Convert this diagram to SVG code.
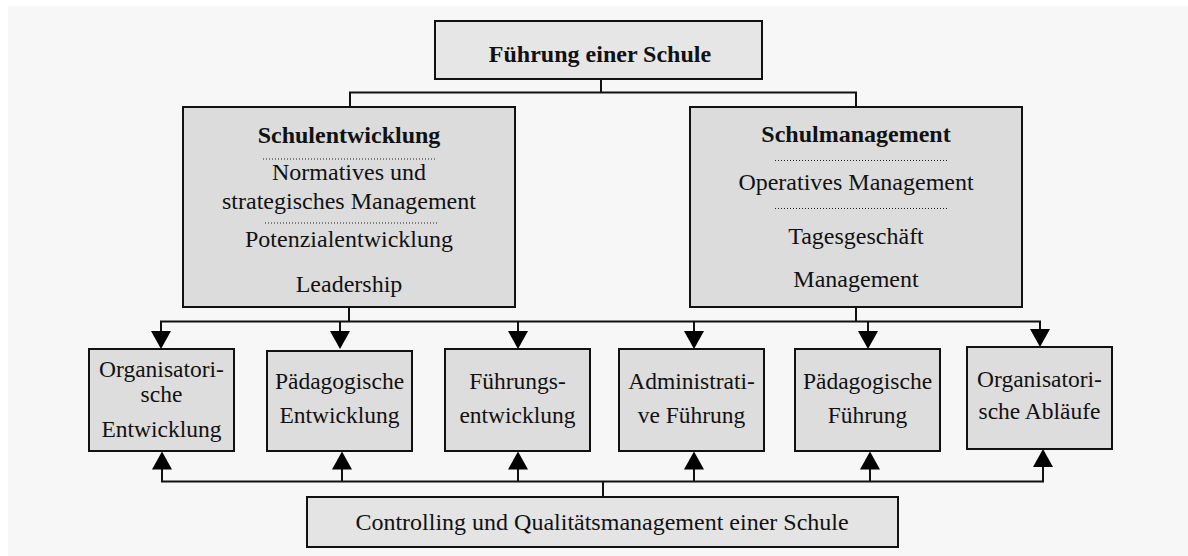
<svg xmlns="http://www.w3.org/2000/svg" width="1188" height="556" viewBox="0 0 1188 556">
  <style>
    text { font-family: "Liberation Serif", "Times New Roman", serif; fill: #111; text-anchor: middle; }
    .t { font-size: 24px; }
    .b { font-size: 24px; font-weight: bold; }
    .s { font-size: 23.5px; }
    .box { stroke: #111; stroke-width: 2; }
    .top { fill: #e6e6e6; }
    .mid { fill: #dcdcdc; }
    .low { fill: #dddddd; }
    .ctl { fill: #e4e4e4; }
    .dot { stroke: #222; stroke-width: 1; stroke-dasharray: 1 2; fill: none; }
    .wire { stroke: #111; stroke-width: 2; fill: none; }
  </style>
  <defs>
    <marker id="head" viewBox="0 0 18 20" refX="10" refY="10" markerWidth="18" markerHeight="20" markerUnits="userSpaceOnUse" orient="auto">
      <path d="M0,0 L18,10 L0,20 z" fill="#000"/>
    </marker>
  </defs>

  <rect x="8" y="6" width="1180" height="550" fill="#f7f7f7"/>

  <!-- connectors -->
  <g id="connectors">
    <!-- top level to the two pillars -->
    <path class="wire" d="M601,79 V92.5 M350,107 V92.5 H856 V107"/>
    <!-- pillars down to the distribution bus -->
    <path class="wire" d="M349,307 V321.5 M856,307 V321.5 M161,341 V321.5 H1040 V341"/>
    <path class="wire" marker-end="url(#head)" d="M340,321.5 V341"/>
    <path class="wire" marker-end="url(#head)" d="M518,321.5 V341"/>
    <path class="wire" marker-end="url(#head)" d="M694,321.5 V341"/>
    <path class="wire" marker-end="url(#head)" d="M868,321.5 V341"/>
    <path class="wire" marker-end="url(#head)" d="M161,335 V341"/>
    <path class="wire" marker-end="url(#head)" d="M1040,335 V339"/>
    <!-- controlling feedback bus -->
    <path class="wire" d="M603,497 V481.5 M162,459 V481.5 H1043 V459"/>
    <path class="wire" marker-end="url(#head)" d="M162,470 V459.5"/>
    <path class="wire" marker-end="url(#head)" d="M342,481.5 V459.5"/>
    <path class="wire" marker-end="url(#head)" d="M518,481.5 V459.5"/>
    <path class="wire" marker-end="url(#head)" d="M694,481.5 V459.5"/>
    <path class="wire" marker-end="url(#head)" d="M870,481.5 V459.5"/>
    <path class="wire" marker-end="url(#head)" d="M1043,470 V457"/>
  </g>

  <g id="fuehrung">
    <rect class="box top" x="435" y="21" width="327" height="58"/>
    <text class="b" x="600" y="61.5">Führung einer Schule</text>
  </g>

  <g id="schulentwicklung">
    <rect class="box mid" x="183" y="107" width="332" height="200"/>
    <text class="b" x="349" y="142.5">Schulentwicklung</text>
    <line class="dot" x1="263" y1="159" x2="435" y2="159"/>
    <text class="t" x="349" y="180">Normatives und</text>
    <text class="t" x="349" y="208.5">strategisches Management</text>
    <line class="dot" x1="265" y1="223" x2="437" y2="223"/>
    <text class="t" x="349" y="246.5">Potenzialentwicklung</text>
    <text class="t" x="349" y="291.5">Leadership</text>
  </g>

  <g id="schulmanagement">
    <rect class="box mid" x="690" y="107" width="332" height="200"/>
    <text class="b" x="856" y="141.5">Schulmanagement</text>
    <line class="dot" x1="775" y1="160.5" x2="947" y2="160.5"/>
    <text class="t" x="856" y="190">Operatives Management</text>
    <line class="dot" x1="775" y1="208.5" x2="947" y2="208.5"/>
    <text class="t" x="856" y="243.5">Tagesgeschäft</text>
    <text class="t" x="856" y="286.5">Management</text>
  </g>

  <g id="org-entwicklung">
    <rect class="box low" x="89" y="349" width="145" height="102"/>
    <text class="s" x="161.5" y="376.5">Organisatori-</text>
    <text class="s" x="161.5" y="401.5">sche</text>
    <text class="s" x="161.5" y="436.5">Entwicklung</text>
  </g>

  <g id="paed-entwicklung">
    <rect class="box low" x="267" y="351" width="145" height="100"/>
    <text class="s" x="339.5" y="389">Pädagogische</text>
    <text class="s" x="339.5" y="423">Entwicklung</text>
  </g>

  <g id="fuehrungsentwicklung">
    <rect class="box low" x="445" y="349" width="145" height="102"/>
    <text class="s" x="517.5" y="389">Führungs-</text>
    <text class="s" x="517.5" y="423">entwicklung</text>
  </g>

  <g id="admin-fuehrung">
    <rect class="box low" x="619" y="349" width="145" height="102"/>
    <text class="s" x="691.5" y="389">Administrati-</text>
    <text class="s" x="691.5" y="423">ve Führung</text>
  </g>

  <g id="paed-fuehrung">
    <rect class="box low" x="795" y="349" width="145" height="102"/>
    <text class="s" x="867.5" y="389">Pädagogische</text>
    <text class="s" x="867.5" y="423">Führung</text>
  </g>

  <g id="org-ablaeufe">
    <rect class="box low" x="967" y="347" width="145" height="102"/>
    <text class="s" x="1039.5" y="387">Organisatori-</text>
    <text class="s" x="1039.5" y="419">sche Abläufe</text>
  </g>

  <g id="controlling">
    <rect class="box ctl" x="307" y="497" width="591" height="50"/>
    <text class="t" x="602" y="530">Controlling und Qualitätsmanagement einer Schule</text>
  </g>
</svg>
